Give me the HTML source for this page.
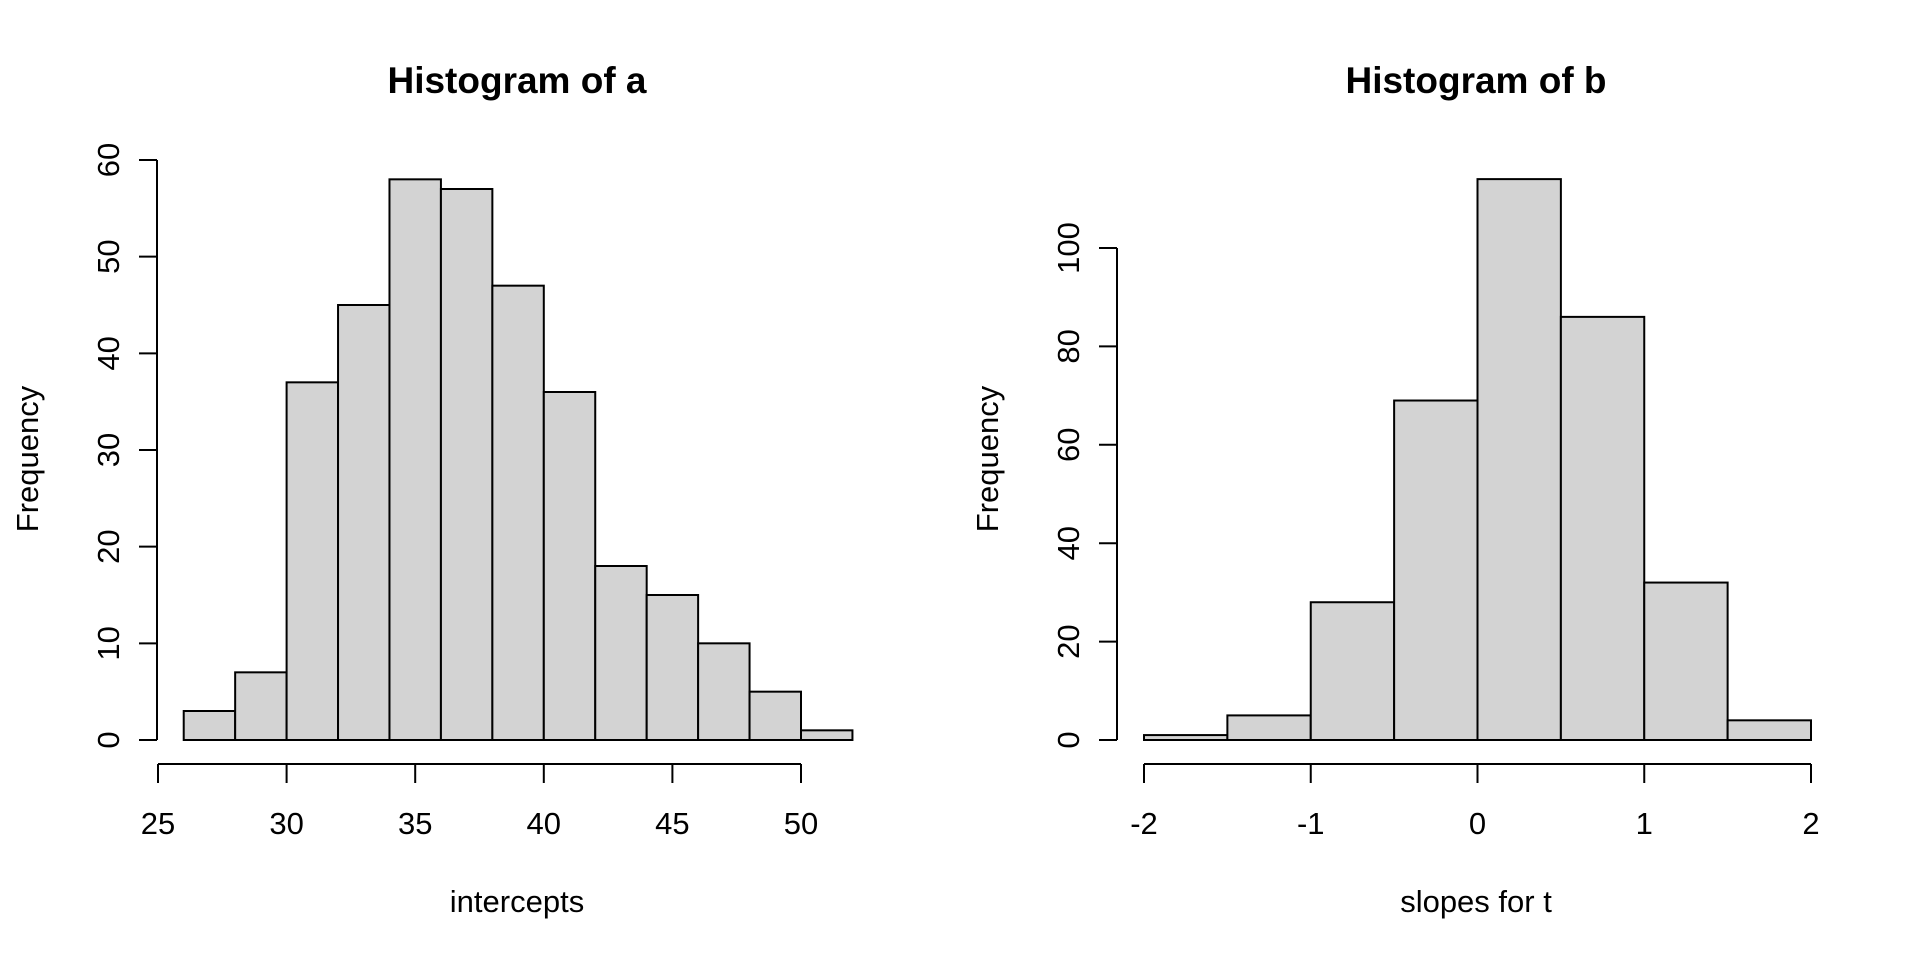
<!DOCTYPE html>
<html><head><meta charset="utf-8"><style>
html,body{margin:0;padding:0;background:#fff;}
svg{display:block;font-family:"Liberation Sans",Arial,sans-serif;}
</style></head><body>
<svg id="c" width="1920" height="960"></svg>
<script>
const aBreaks = [26,28,30,32,34,36,38,40,42,44,46,48,50,52];
const aCounts = [3,7,37,45,58,57,47,36,18,15,10,5,1];
const aXTicks = [25,30,35,40,45,50];
const aYTicks = [0,10,20,30,40,50,60];
const bBreaks = [-2,-1.5,-1,-0.5,0,0.5,1,1.5,2];
const bCounts = [1,5,28,69,114,86,32,4];
const bXTicks = [-2,-1,0,1,2];
const bYTicks = [0,20,40,60,80,100];

const NS = "http://www.w3.org/2000/svg";
const svg = document.getElementById('c');
function mk(tag, attrs, parent){
  const e = document.createElementNS(NS, tag);
  for (const k in attrs) e.setAttribute(k, attrs[k]);
  (parent||svg).appendChild(e);
  return e;
}
function panel(cfg){
  const g = mk('g', {});
  
  
  const sx = v => cfg.x0 + (v - cfg.xv0) * (cfg.x1 - cfg.x0) / (cfg.xv1 - cfg.xv0);
  const sy = v => cfg.y0 - v * (cfg.y0 - cfg.yTop) / cfg.yvTop;
  for (let i = 0; i < cfg.counts.length; i++) {
    const xa = sx(cfg.breaks[i]), xb = sx(cfg.breaks[i+1]);
    const r = mk('rect', {x: xa, y: sy(cfg.counts[i]), width: xb - xa, height: sy(0) - sy(cfg.counts[i]), fill: '#d3d3d3', stroke: '#000', 'stroke-width': 2}, g);
    
    
  }
  const xt = cfg.xticks;
  const xa = mk('path', {d: `M${sx(xt[0])},764H${sx(xt[xt.length-1])}` + xt.map(t => `M${sx(t)},764V783`).join(''), stroke: '#000', 'stroke-width': 2, fill: 'none'}, g);
  
  
  xt.forEach(t => {
    const tx = mk('text', {x: sx(t), y: 834, 'font-size': 31, 'text-anchor': 'middle'}, g);
    tx.textContent = String(t);
    
    
  });
  const yt = cfg.yticks;
  const ya = mk('path', {d: `M${cfg.yAxisX},${sy(yt[0])}V${sy(yt[yt.length-1])}` + yt.map(t => `M${cfg.yAxisX},${sy(t)}H${cfg.yAxisX-18}`).join(''), stroke: '#000', 'stroke-width': 2, fill: 'none'}, g);
  
  
  yt.forEach(t => {
    const lx = cfg.yAxisX - 38;
    const tx = mk('text', {x: lx, y: sy(t), 'font-size': 31, 'text-anchor': 'middle', transform: `rotate(-90 ${lx} ${sy(t)})`}, g);
    tx.textContent = String(t);
    
    
  });
  const ti = mk('text', {x: cfg.titleX, y: 93, 'font-size': 37, 'font-weight': 'bold', 'text-anchor': 'middle'}, g);
  ti.textContent = cfg.title;
  
  
  const xl = mk('text', {x: cfg.titleX, y: 912, 'font-size': 31, 'text-anchor': 'middle'}, g);
  xl.textContent = cfg.xlab;
  
  
  const fx = cfg.yAxisX - 119;
  const yl = mk('text', {x: fx, y: 459, 'font-size': 31, 'text-anchor': 'middle', transform: `rotate(-90 ${fx} 459)`}, g);
  yl.textContent = 'Frequency';
  
  
}
panel({name:'histogram-a', breaks:aBreaks, counts:aCounts, xticks:aXTicks, yticks:aYTicks,
  x0:158, x1:801, xv0:25, xv1:50, y0:740, yTop:160, yvTop:60, yAxisX:157, titleX:517,
  title:'Histogram of a', xlab:'intercepts'});
panel({name:'histogram-b', breaks:bBreaks, counts:bCounts, xticks:bXTicks, yticks:bYTicks,
  x0:1144, x1:1811, xv0:-2, xv1:2, y0:740, yTop:248, yvTop:100, yAxisX:1117, titleX:1476,
  title:'Histogram of b', xlab:'slopes for t'});
</script>
</body></html>
